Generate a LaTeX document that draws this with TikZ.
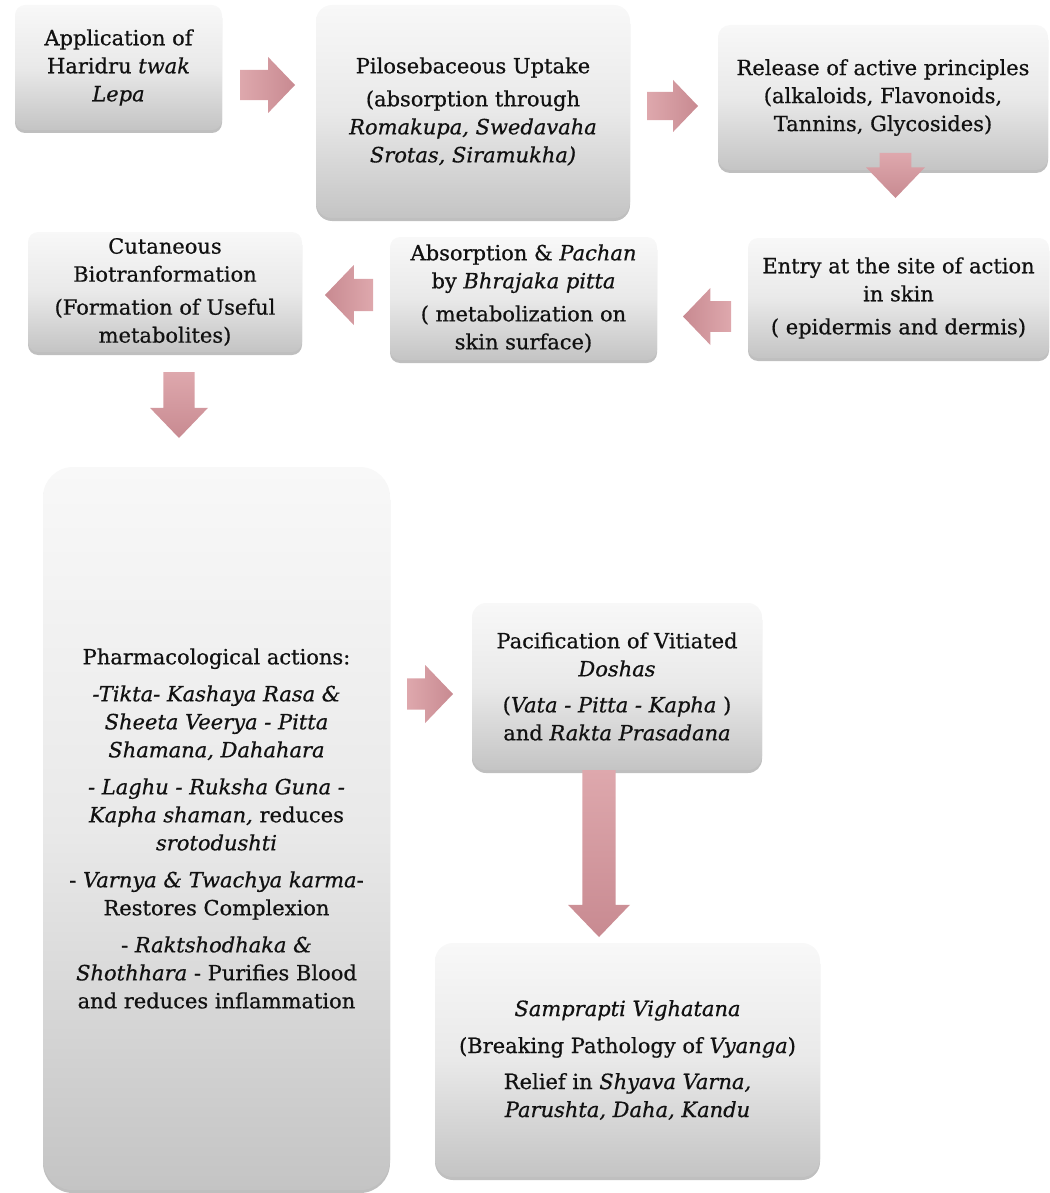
\documentclass[tikz,border=0pt]{standalone}
\usepackage{fontspec}
\setmainfont{DejaVu Serif}[FakeBold=0.6]
\usetikzlibrary{shadows}
\definecolor{boxtop}{HTML}{F8F8F8}
\definecolor{boxmid}{HTML}{E9E9E9}
\definecolor{boxbot}{HTML}{C4C4C4}
\definecolor{arlight}{HTML}{DEA8AD}
\definecolor{ardark}{HTML}{C88A91}
\definecolor{txt}{HTML}{111111}
\tikzset{
  box/.style={draw=none, rounded corners=#1, top color=boxtop, bottom color=boxbot, middle color=boxmid,
    drop shadow={shadow xshift=0pt, shadow yshift=-3pt, opacity=0.25, fill=black},
    align=center, inner sep=0pt, text=txt, font=\fontsize{21}{28}\selectfont},
  box/.default=10,
  arrowR/.style={left color=arlight, right color=ardark},
  arrowL/.style={left color=ardark, right color=arlight},
  arrowD/.style={top color=arlight, bottom color=ardark}
}
% right-pointing block arrow: x0, x1, ytop, ybot
\newcommand\blkR[4]{%
  \pgfmathsetmacro\aw{#4-#3}\pgfmathsetmacro\ym{(#3+#4)/2}%
  \pgfmathsetmacro\hs{0.27*\aw}\pgfmathsetmacro\xh{#2-0.48*\aw}%
  \shade[arrowR] (#1,\ym-\hs) -- (\xh,\ym-\hs) -- (\xh,#3) -- (#2,\ym) -- (\xh,#4) -- (\xh,\ym+\hs) -- (#1,\ym+\hs) -- cycle;}
% left-pointing block arrow: x0 (tip), x1, ytop, ybot
\newcommand\blkL[4]{%
  \pgfmathsetmacro\aw{#4-#3}\pgfmathsetmacro\ym{(#3+#4)/2}%
  \pgfmathsetmacro\hs{0.27*\aw}\pgfmathsetmacro\xh{#1+0.48*\aw}%
  \shade[arrowL] (#2,\ym-\hs) -- (\xh,\ym-\hs) -- (\xh,#3) -- (#1,\ym) -- (\xh,#4) -- (\xh,\ym+\hs) -- (#2,\ym+\hs) -- cycle;}
% down-pointing block arrow: x0, x1, ytop, ybot (tip)
\newcommand\blkD[4]{%
  \pgfmathsetmacro\aw{#2-#1}\pgfmathsetmacro\xm{(#1+#2)/2}%
  \pgfmathsetmacro\hs{0.27*\aw}\pgfmathsetmacro\yh{#4-0.52*\aw}%
  \shade[arrowD] (\xm-\hs,#3) -- (\xm+\hs,#3) -- (\xm+\hs,\yh) -- (#2,\yh) -- (\xm,#4) -- (#1,\yh) -- (\xm-\hs,\yh) -- cycle;}
\begin{document}
\begin{tikzpicture}[x=1pt,y=-1pt]
\useasboundingbox (0,0) rectangle (1049,1193);

\node[box=10, minimum width=207, minimum height=125] (b1) at (118.5,67.5)
  {Application of\\ Haridru \textit{twak}\\ \textit{Lepa}};
\node[box=16, minimum width=314, minimum height=213] (b2) at (473,111.5)
  {Pilosebaceous Uptake\\[5pt] (absorption through\\ \textit{Romakupa, Swedavaha}\\ \textit{Srotas, Siramukha)}};
\node[box=12, minimum width=330, minimum height=145] (b3) at (883,97.5)
  {Release of active principles\\ (alkaloids, Flavonoids,\\ Tannins, Glycosides)};
\node[box=10, minimum width=301, minimum height=120] (b4) at (898.5,298)
  {Entry at the site of action\\ in skin\\[5pt] ( epidermis and dermis)};
\node[box=10, minimum width=267, minimum height=123] (b5) at (523.5,298.5)
  {Absorption \& \textit{Pachan}\\ by \textit{Bhrajaka pitta}\\[5pt] ( metabolization on\\ skin surface)};
\node[box=10, minimum width=274, minimum height=120] (b6) at (165,292)
  {Cutaneous\\ Biotranformation\\[5pt] (Formation of Useful\\ metabolites)};
\node[box=30, minimum width=347, minimum height=723] (b7) at (216.5,828.5)
  {Pharmacological actions:\\[9pt]
   \textit{-Tikta- Kashaya Rasa \&}\\ \textit{Sheeta Veerya - Pitta}\\ \textit{Shamana, Dahahara}\\[9pt]
   \textit{- Laghu - Ruksha Guna -}\\ \textit{Kapha shaman,} reduces\\ \textit{srotodushti}\\[9pt]
   - \textit{Varnya \& Twachya karma}-\\ Restores Complexion\\[9pt]
   - \textit{Raktshodhaka \&}\\ \textit{Shothhara} - Purifies Blood\\ and reduces inflammation};
\node[box=14, minimum width=290, minimum height=167] (b8) at (617,686.5)
  {Pacification of Vitiated\\ \textit{Doshas}\\[8pt] (\textit{Vata - Pitta - Kapha} )\\ and \textit{Rakta Prasadana}};
\node[box=18, minimum width=385, minimum height=234] (b9) at (627.5,1060)
  {\textit{Samprapti Vighatana}\\[9pt] (Breaking Pathology of \textit{Vyanga})\\[8pt] Relief in \textit{Shyava Varna,}\\ \textit{Parushta, Daha, Kandu}};

% block arrows
\blkR{240}{295}{57}{113}
\blkR{647}{698}{80}{132}
\blkD{866}{925}{153}{198}
\blkL{683}{731}{288}{345}
\blkL{325}{373}{265}{325}
\blkD{150}{208}{372}{438}
\blkR{407}{453}{665}{723}
\blkD{568}{630}{770}{937}
\end{tikzpicture}
\end{document}
